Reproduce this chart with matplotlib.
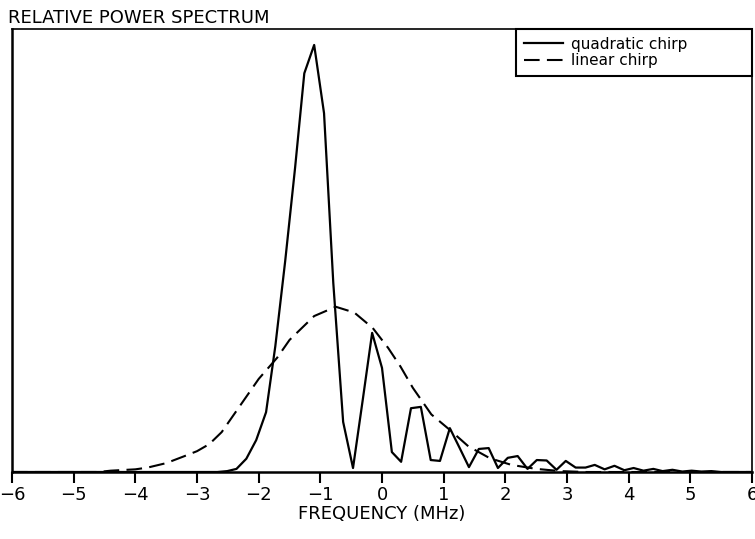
import numpy as np
import matplotlib
matplotlib.use("Agg")
import matplotlib.pyplot as plt

# quadratic chirp spectrum, sampled every ~0.157 MHz
quad_freq = [-6.0, -2.67, -2.51, -2.36, -2.20, -2.04, -1.88, -1.73, -1.57, -1.41,
             -1.26, -1.10, -0.94, -0.79, -0.63, -0.47, -0.31, -0.16, 0.0,
             0.16, 0.31, 0.47, 0.63, 0.79, 0.94, 1.10, 1.26, 1.41, 1.57,
             1.73, 1.88, 2.04, 2.20, 2.36, 2.51, 2.67, 2.83, 2.98, 3.14,
             3.30, 3.45, 3.61, 3.77, 3.93, 4.08, 4.24, 4.40, 4.55, 4.71,
             4.87, 5.02, 5.18, 5.34, 5.50, 6.0]
quad_power = [0.0, 0.0, 0.002, 0.007, 0.030, 0.072, 0.135, 0.284, 0.476, 0.686,
              0.900, 0.964, 0.810, 0.427, 0.113, 0.009, 0.165, 0.314, 0.235,
              0.045, 0.023, 0.144, 0.147, 0.027, 0.025, 0.099, 0.054, 0.011, 0.052,
              0.054, 0.009, 0.032, 0.036, 0.007, 0.027, 0.026, 0.005, 0.025, 0.010,
              0.010, 0.016, 0.006, 0.014, 0.004, 0.009, 0.003, 0.007, 0.002, 0.005,
              0.001, 0.003, 0.001, 0.002, 0.0, 0.0]

# linear chirp spectrum (smooth envelope)
lin_freq = [-6.0, -4.6, -4.4, -4.0, -3.8, -3.5, -3.2, -3.0, -2.8, -2.6, -2.3,
            -2.0, -1.7, -1.5, -1.1, -0.75, -0.45, -0.15, 0.1, 0.3, 0.5, 0.8,
            1.1, 1.4, 1.75, 2.1, 2.5, 2.9, 3.3, 6.0]
lin_power = [0.0, 0.0, 0.003, 0.006, 0.010, 0.020, 0.036, 0.047, 0.063, 0.090, 0.150,
             0.210, 0.258, 0.298, 0.352, 0.373, 0.360, 0.325, 0.280, 0.238, 0.190, 0.130,
             0.095, 0.058, 0.031, 0.016, 0.007, 0.002, 0.0, 0.0]

xticks = [-6, -5, -4, -3, -2, -1, 0, 1, 2, 3, 4, 5, 6]

plt.rcParams["font.family"] = ["DejaVu Sans"]

fig = plt.figure(figsize=(7.55, 5.39), dpi=100)
ax = fig.add_axes([12 / 755, 1 - 472 / 539, 740 / 755, 443 / 539])

ax.plot(quad_freq, quad_power, color="black", lw=1.6, label="quadratic chirp")
ax.plot(lin_freq, lin_power, color="black", lw=1.5, linestyle=(0, (7.5, 3.5)),
        label="linear chirp")

ax.set_xlim(-6, 6)
ax.set_ylim(0, 1.0)
ax.set_yticks([])
ax.set_xticks(xticks)
ax.set_xticklabels([str(t).replace("-", "\u2212") for t in xticks])
ax.tick_params(axis="x", direction="out", length=8, width=1.5, pad=2, labelsize=13)

for side in ["left", "bottom"]:
    ax.spines[side].set_linewidth(1.8)
for side in ["top", "right"]:
    ax.spines[side].set_linewidth(1.2)

ax.set_xlabel("FREQUENCY (MHz)", fontsize=13, labelpad=1)

fig.text(8 / 755, 1 - 18 / 539, "RELATIVE POWER SPECTRUM", fontsize=13,
         ha="left", va="center")

leg = ax.legend(loc="upper right", bbox_to_anchor=(504 / 740, 0.0, 236 / 740, 1.0),
                mode="expand", fancybox=False, framealpha=1, edgecolor="black",
                borderaxespad=0, fontsize=11, handlelength=2.6, handletextpad=0.5,
                labelspacing=0.1, borderpad=0.5)
leg.get_frame().set_linewidth(1.5)

fig.savefig("out.png", dpi=100)
